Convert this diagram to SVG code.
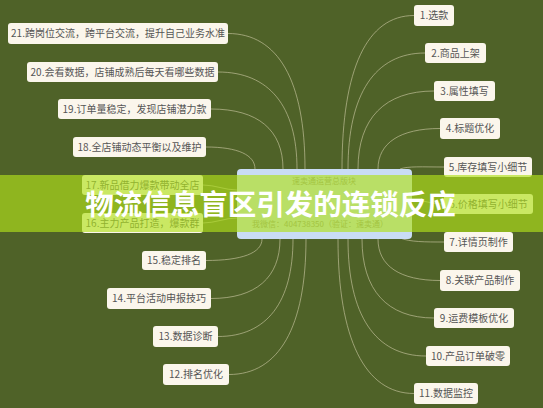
<svg xmlns="http://www.w3.org/2000/svg" width="543" height="408" viewBox="0 0 543 408">
<style>
.n rect{fill:#fbf6ec;rx:3px;ry:3px}
.n text{font-family:"Noto Sans CJK SC","Noto Sans",sans-serif;font-size:10px;fill:#555;text-anchor:middle}
.c path{fill:none;stroke:#c2c09a;stroke-width:0.8;opacity:0.85}
.ct{font-family:"Noto Sans CJK SC","Noto Sans",sans-serif;font-size:8px;fill:#8a8a8a;text-anchor:middle}
</style>
<rect width="543" height="408" fill="#4f6228"/>
<g id="connectors" class="c">
<path d="M342,169 C342,69 367,15.5 414,15.5"/>
<path d="M348,169 C348,94 375,53 425,53"/>
<path d="M358,169 C358,118 385,91 434,91"/>
<path d="M378,169 C378,143 400,128.5 440,128.5"/>
<path d="M400,169 C408,166 422,167 444,167"/>
<path d="M411,200 C425,200 430,204 444,204"/>
<path d="M400,238 C410,242 425,242 444,242"/>
<path d="M378,239 C378,266 400,280.5 440,280.5"/>
<path d="M362,239 C362,290 387,318 434,318"/>
<path d="M348,239 C348,315 375,356 426,356"/>
<path d="M338,239 C338,339 365,393.5 414,393.5"/>
<path d="M305,169 C305,80.5 278,33.5 228,33.5"/>
<path d="M297,169 C297,106 269,72 218,72"/>
<path d="M283,169 C283,130 258,109 211,109"/>
<path d="M255,169 C255,155 238,147 206,147"/>
<path d="M237,190 C225,190 215,185 203,185"/>
<path d="M237,218 C225,218 215,223 203,223"/>
<path d="M262,239 C262,253 242,260.5 206,260.5"/>
<path d="M280,239 C280,277.5 256,298.5 211,298.5"/>
<path d="M293,239 C293,302 267,336.5 218,336.5"/>
<path d="M306,239 C306,327 279,374.5 229,374.5"/>
</g>
<g id="center">
<rect x="237" y="169" width="175" height="70" rx="4" fill="#c9dcf5"/>
<text class="ct" x="324" y="184">速卖通运营总版块</text>
<text class="ct" x="320" y="227">我微信：404738350（验证：速卖通）</text>
</g>
<g id="n21" class="n"><rect x="8" y="23" width="220" height="21"/><text x="118" y="37">21.跨岗位交流，跨平台交流，提升自己业务水准</text></g>
<g id="n20" class="n"><rect x="27" y="62" width="191" height="20"/><text x="122.5" y="75.5">20.会看数据，店铺成熟后每天看哪些数据</text></g>
<g id="n19" class="n"><rect x="58" y="99" width="153" height="20"/><text x="134.5" y="112.5">19.订单量稳定，发现店铺潜力款</text></g>
<g id="n18" class="n"><rect x="73" y="137" width="133" height="20"/><text x="139.5" y="150.5">18.全店铺动态平衡以及维护</text></g>
<g id="n17" class="n"><rect x="82" y="175" width="121" height="20"/><text x="142.5" y="188.5">17.新品借力爆款带动全店</text></g>
<g id="n16" class="n"><rect x="82" y="213" width="121" height="20"/><text x="142.5" y="226.5">16.主力产品打造，爆款群</text></g>
<g id="n15" class="n"><rect x="142" y="251" width="64" height="19"/><text x="174" y="264">15.稳定排名</text></g>
<g id="n14" class="n"><rect x="107" y="288" width="104" height="21"/><text x="159" y="302">14.平台活动申报技巧</text></g>
<g id="n13" class="n"><rect x="153" y="326" width="65" height="21"/><text x="185.5" y="340">13.数据诊断</text></g>
<g id="n12" class="n"><rect x="163" y="364" width="66" height="21"/><text x="196" y="378">12.排名优化</text></g>
<g id="n1" class="n"><rect x="414" y="5" width="40" height="21"/><text x="434" y="19">1.选款</text></g>
<g id="n2" class="n"><rect x="425" y="43" width="61" height="20"/><text x="455.5" y="56.5">2.商品上架</text></g>
<g id="n3" class="n"><rect x="434" y="81" width="61" height="20"/><text x="464.5" y="94.5">3.属性填写</text></g>
<g id="n4" class="n"><rect x="440" y="118" width="60" height="21"/><text x="470" y="132">4.标题优化</text></g>
<g id="n5" class="n"><rect x="444" y="157" width="88" height="20"/><text x="488" y="170.5">5.库存填写小细节</text></g>
<g id="n6" class="n"><rect x="444" y="194" width="89" height="20"/><text x="488.5" y="207.5">6.价格填写小细节</text></g>
<g id="n7" class="n"><rect x="444" y="232" width="69" height="20"/><text x="478.5" y="245.5">7.详情页制作</text></g>
<g id="n8" class="n"><rect x="440" y="270" width="80" height="21"/><text x="480" y="284">8.关联产品制作</text></g>
<g id="n9" class="n"><rect x="434" y="308" width="80" height="20"/><text x="474" y="321.5">9.运费模板优化</text></g>
<g id="n10" class="n"><rect x="426" y="346" width="84" height="20"/><text x="468" y="359.5">10.产品订单破零</text></g>
<g id="n11" class="n"><rect x="414" y="383" width="64" height="21"/><text x="446" y="397">11.数据监控</text></g>
<g id="banner">
<rect x="0" y="175" width="543" height="57" fill="#b0e01c" fill-opacity="0.66"/>
<text x="270.5" y="215" font-family="'Noto Sans CJK SC','Noto Sans',sans-serif" font-size="28.5" font-weight="bold" fill="#fff" text-anchor="middle">物流信息盲区引发的连锁反应</text>
</g>
</svg>
